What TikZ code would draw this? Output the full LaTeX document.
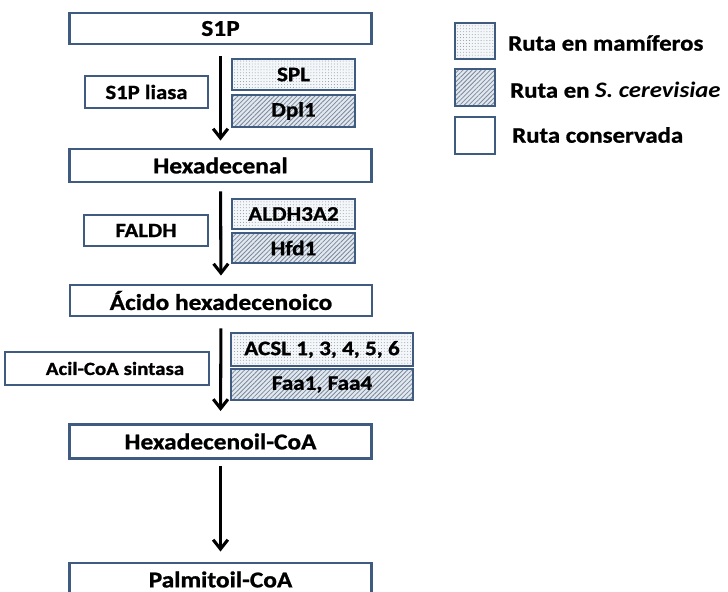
\documentclass[tikz,border=0pt]{standalone}
\usepackage{fontspec}
\setmainfont{Carlito}[FakeStretch=1.12,BoldFeatures={FakeBold=1.0}]
\usetikzlibrary{arrows.meta,patterns.meta}
\definecolor{bord}{HTML}{3F5B80}
\definecolor{dotbg}{HTML}{F4F7FA}
\definecolor{dotfg}{HTML}{8C939C}
\definecolor{hatbg}{HTML}{E2E8EF}
\definecolor{hatfg}{HTML}{7A889B}
\begin{document}
\begin{tikzpicture}[x=0.75pt,y=-0.75pt,
  box/.style={draw=bord,line width=2.2pt,fill=white,inner sep=0pt,
    font=\bfseries\fontsize{17}{19}\selectfont},
  mainbox/.style={box,minimum width=302*0.75pt,minimum height=32*0.75pt},
  enzbox/.style={box,minimum width=123*0.75pt,minimum height=31*0.75pt,
    font=\bfseries\fontsize{15.2}{17}\selectfont},
  spfont/.style={font=\bfseries\fontsize{15.5}{17}\selectfont},
  dotfill/.style={fill=none,preaction={fill=dotbg},
    pattern={Dots[distance=2.2pt,radius=0.35pt]},pattern color=dotfg},
  hatfill/.style={fill=none,preaction={fill=hatbg},
    pattern={Lines[angle=45,distance=2.4pt,line width=0.6pt]},pattern color=hatfg},
  legbox/.style={box,minimum width=40*0.75pt,minimum height=36*0.75pt},
  legtext/.style={anchor=west,inner sep=0pt,font=\bfseries\fontsize{16.6}{18}\selectfont},
  flow/.style={draw=black,line width=2.3pt,-{Straight Barb[length=7pt,width=11pt]}}
]
\useasboundingbox (0,0) rectangle (728,592);
\clip (0,0) rectangle (728,592);

% main chain
\node[mainbox,minimum height=31*0.75pt] (s1p) at (220.5,28.5) {S1P};
\node[mainbox,minimum height=33*0.75pt] (hex) at (220.5,165.5) {Hexadecenal};
\node[mainbox,minimum height=31*0.75pt] (acid) at (221,300.5) {Ácido hexadecenoico};
\node[mainbox,minimum height=34*0.75pt] (hcoa) at (220.5,441.5) {Hexadecenoil-CoA};
\node[mainbox,minimum height=33*0.75pt] (pcoa) at (220.5,579.5) {Palmitoil-CoA};

% generic enzymes
\node[enzbox,minimum height=32*0.75pt] (liasa) at (146.5,92) {S1P liasa};
\node[enzbox,minimum width=124*0.75pt] (faldh) at (146,230.5) {FALDH};
\node[enzbox,minimum width=204*0.75pt,minimum height=33*0.75pt,
  font=\bfseries\fontsize{14}{16}\selectfont] (acil) at (107,368.5) {\hspace{12pt}Acil-CoA sintasa};

% species-specific enzymes
\node[enzbox,spfont,dotfill] (spl) at (293.5,74.5) {SPL};
\node[enzbox,spfont,hatfill,minimum height=32*0.75pt] (dpl) at (293.5,111) {Dpl1};
\node[enzbox,spfont,dotfill,minimum height=30*0.75pt] (aldh) at (293.5,214) {ALDH3A2};
\node[enzbox,spfont,hatfill,minimum height=30*0.75pt] (hfd) at (293.5,248) {Hfd1};
\node[enzbox,spfont,dotfill,minimum width=182*0.75pt,minimum height=33*0.75pt] (acsl) at (322,349.5) {ACSL 1, 3, 4, 5, 6};
\node[enzbox,spfont,hatfill,minimum width=182*0.75pt,minimum height=31*0.75pt] (faa) at (322,384.5) {Faa1, Faa4};

% arrows
\draw[flow,shorten <=8.25pt,shorten >=5.25pt] (s1p.south) -- (hex.north);
\draw[flow,shorten <=6pt,shorten >=6pt] (hex.south) -- (acid.north);
\draw[flow,shorten <=8.25pt,shorten >=9pt] (acid.south) -- (hcoa.north);
\draw[flow,shorten <=4.5pt,shorten >=7.5pt] (hcoa.south) -- (pcoa.north);

% legend
\node[legbox,dotfill] (lg1) at (475,41) {};
\node[legbox,hatfill,minimum height=37*0.75pt] (lg2) at (475,87.5) {};
\node[legbox,minimum height=37*0.75pt] (lg3) at (475,135.5) {};
\node[legtext] (lt1) at (508,43) {Ruta en mamíferos};
\node[legtext] (lt2) at (510,90) {Ruta en \textit{S. cerevisiae}};
\node[legtext] (lt3) at (512,135) {Ruta conservada};
\end{tikzpicture}
\end{document}
